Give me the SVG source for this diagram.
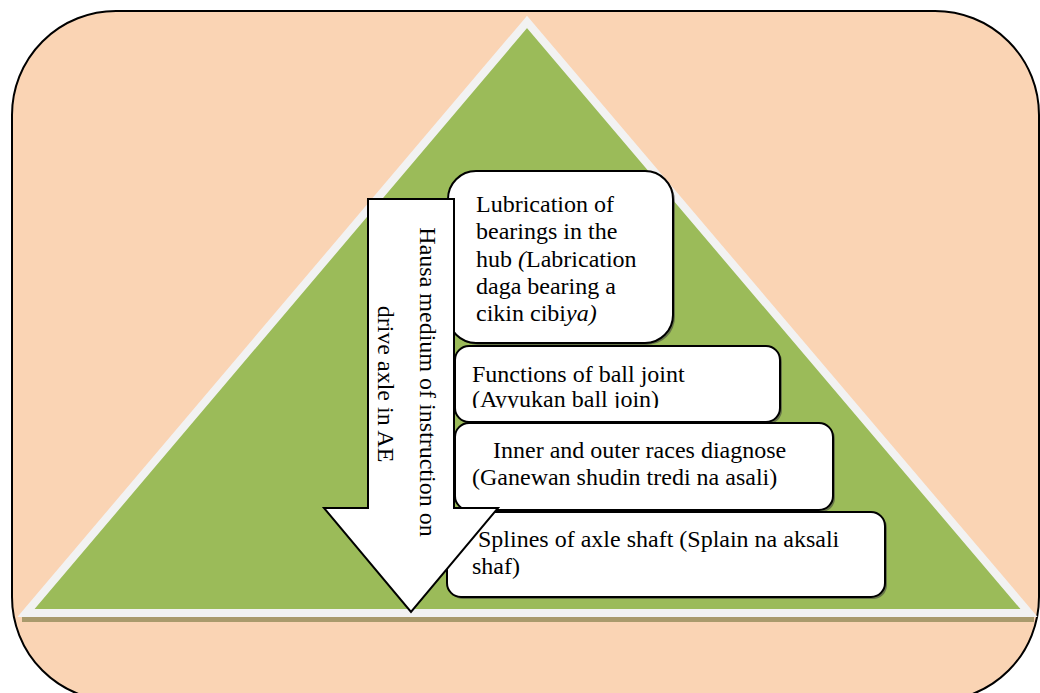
<svg xmlns="http://www.w3.org/2000/svg" width="1040" height="693" viewBox="0 0 1040 693">
  <defs>
    <style>
      .box { fill: #ffffff; stroke: #000000; stroke-width: 2; }
      .shadow { fill: #3a3a3a; opacity: 0.55; }
      .label { font-family: "Liberation Serif", "Times New Roman", serif; font-size: 24px; fill: #000000; }
      .it { font-style: italic; }
    </style>
    <clipPath id="clip-ball">
      <rect x="455" y="346" width="325" height="62"/>
    </clipPath>
  </defs>

  <!-- background panel -->
  <g id="panel">
    <rect x="12" y="11" width="1027" height="690" rx="104" ry="104" fill="#FAD4B4" stroke="#000000" stroke-width="2"/>
  </g>

  <!-- pyramid -->
  <g id="pyramid">
    <rect x="22" y="617" width="1012" height="5" fill="#A99A6C"/>
    <polygon points="527,22 26,613 1029,613" fill="#9BBB59" stroke="#F2F2F2" stroke-width="8" stroke-linejoin="miter"/>
  </g>

  <!-- level boxes -->
  <g id="box-lubrication">
    <rect class="shadow" x="450" y="173" width="225" height="172" rx="28"/>
    <rect class="box" x="448" y="171" width="225" height="172" rx="28"/>
    <text class="label" x="476" y="212">Lubrication of</text>
    <text class="label" x="476" y="239">bearings in the</text>
    <text class="label" x="476" y="267">hub <tspan class="it">(</tspan>Labrication</text>
    <text class="label" x="476" y="294">daga bearing a</text>
    <text class="label" x="476" y="321">cikin cibi<tspan class="it">ya)</tspan></text>
  </g>

  <g id="box-ball-joint">
    <rect class="shadow" x="457" y="348" width="325" height="76" rx="14"/>
    <rect class="box" x="455" y="346" width="325" height="76" rx="14"/>
    <g clip-path="url(#clip-ball)">
      <text class="label" x="472" y="382">Functions of ball joint</text>
      <text class="label" x="472" y="407">(Ayyukan ball join)</text>
    </g>
  </g>

  <g id="box-races">
    <rect class="shadow" x="457" y="425" width="378" height="87" rx="14"/>
    <rect class="box" x="455" y="423" width="378" height="87" rx="14"/>
    <text class="label" x="493" y="458">Inner and outer races diagnose</text>
    <text class="label" x="472" y="485">(Ganewan shudin tredi na asali)</text>
  </g>

  <g id="box-splines">
    <rect class="shadow" x="449" y="514" width="438" height="85" rx="14"/>
    <rect class="box" x="447" y="512" width="438" height="85" rx="14"/>
    <text class="label" x="478" y="547">Splines of axle shaft (Splain na aksali</text>
    <text class="label" x="472" y="574">shaf)</text>
  </g>

  <!-- downward arrow -->
  <g id="arrow">
    <polygon points="368,199 454,199 454,508 498,508 411,612 324,508 368,508" fill="#ffffff" stroke="#000000" stroke-width="2" stroke-linejoin="miter"/>
    <text class="label" text-anchor="middle" transform="translate(420,382) rotate(90)">Hausa medium of instruction on</text>
    <text class="label" text-anchor="middle" transform="translate(378,384) rotate(90)">drive axle in AE</text>
  </g>
</svg>
